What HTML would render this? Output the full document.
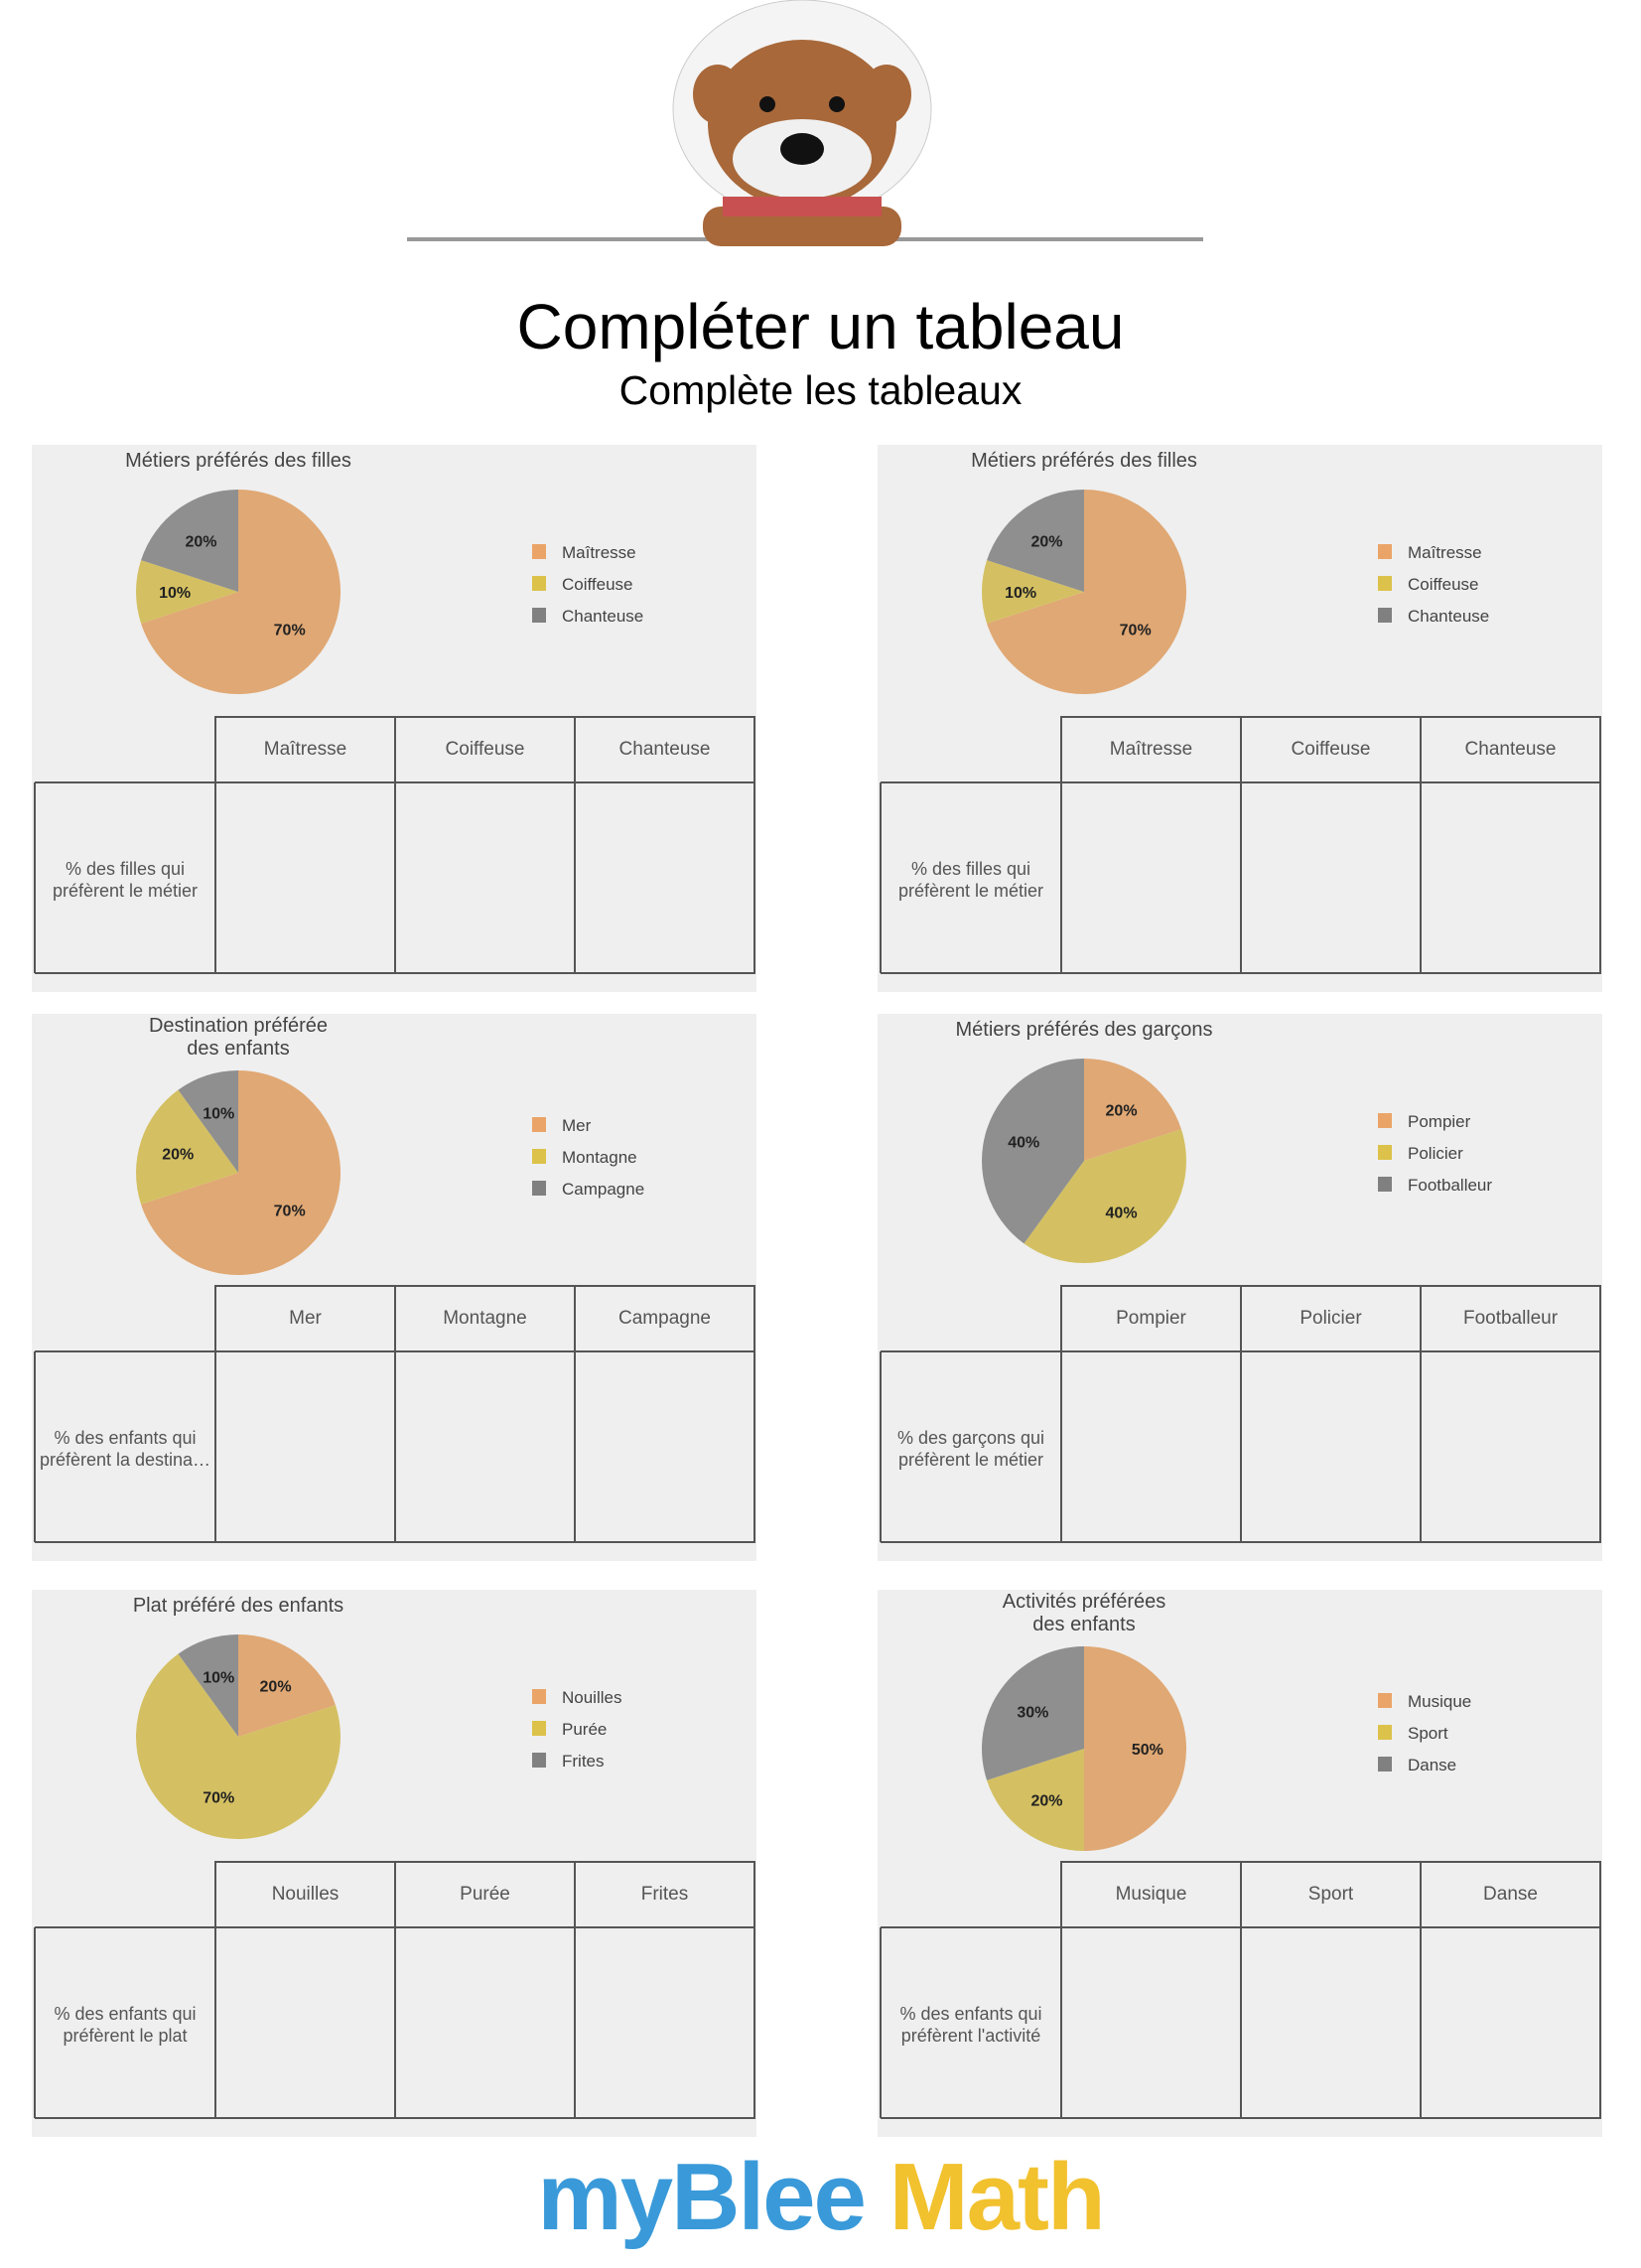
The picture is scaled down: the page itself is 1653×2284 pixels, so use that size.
<!DOCTYPE html>
<html><head><meta charset="utf-8">
<style>
body{margin:0;width:1653px;height:2284px;background:#fff;position:relative;overflow:hidden;font-family:"Liberation Sans",sans-serif}
.t{position:absolute;left:0;width:1653px;text-align:center;color:#000}
.p{position:absolute;width:730px;height:551px;background:#efefef}
.p svg{position:absolute;left:0;top:0}
</style></head><body>
<svg style="position:absolute;left:0;top:0" width="1653" height="280">
<line x1="410" y1="241" x2="1212" y2="241" stroke="#999" stroke-width="4"/>
<ellipse cx="808" cy="110" rx="130" ry="110" fill="#f4f4f4" stroke="#ccc"/>
<ellipse cx="808" cy="125" rx="95" ry="85" fill="#a8683a"/>
<ellipse cx="723" cy="95" rx="25" ry="30" fill="#a8683a"/>
<ellipse cx="893" cy="95" rx="25" ry="30" fill="#a8683a"/>
<ellipse cx="808" cy="160" rx="70" ry="40" fill="#f0f0f0"/>
<ellipse cx="808" cy="150" rx="22" ry="16" fill="#111"/>
<circle cx="773" cy="105" r="8" fill="#111"/><circle cx="843" cy="105" r="8" fill="#111"/>
<rect x="708" y="208" width="200" height="40" rx="18" fill="#a8683a"/>
<rect x="728" y="198" width="160" height="20" fill="#c85050"/>
</svg>
<div class="t" style="top:292px;font-size:64px">Compléter un tableau</div>
<div class="t" style="top:370px;font-size:41px">Complète les tableaux</div>

<div id="panels"></div>

<div class="t" style="top:2158px;font-size:96px;font-weight:bold;letter-spacing:-2px"><span style="color:#3a9ad9">myBlee</span> <span style="color:#f2c12e">Math</span></div>

<script>
var P=[
 {x:32,y:448,t:["Métiers préférés des filles"],l:["Maîtresse","Coiffeuse","Chanteuse"],v:[70,10,20],r:["% des filles qui","préfèrent le métier"]},
 {x:884,y:448,t:["Métiers préférés des filles"],l:["Maîtresse","Coiffeuse","Chanteuse"],v:[70,10,20],r:["% des filles qui","préfèrent le métier"]},
 {x:32,y:1021,t:["Destination préférée","des enfants"],l:["Mer","Montagne","Campagne"],v:[70,20,10],r:["% des enfants qui","préfèrent la destina…"]},
 {x:884,y:1021,t:["Métiers préférés des garçons"],l:["Pompier","Policier","Footballeur"],v:[20,40,40],r:["% des garçons qui","préfèrent le métier"]},
 {x:32,y:1601,t:["Plat préféré des enfants"],l:["Nouilles","Purée","Frites"],v:[20,70,10],r:["% des enfants qui","préfèrent le plat"]},
 {x:884,y:1601,t:["Activités préférées","des enfants"],l:["Musique","Sport","Danse"],v:[50,20,30],r:["% des enfants qui","préfèrent l'activité"]}
];
var C=["#e0a874","#d4c062","#8f8f8f"],LC=["#eba468","#dcc24a","#808080"];
var h="";
P.forEach(function(p){
 var two=p.t.length>1, cx=208, cy=two?160:148, R=103;
 var s='<svg width="730" height="551" xmlns="http://www.w3.org/2000/svg">';
 p.t.forEach(function(t,i){s+='<text x="208" y="'+(two?18+i*23:22)+'" text-anchor="middle" font-size="20" fill="#444">'+t+'</text>';});
 var a=0;
 p.v.forEach(function(v,i){
  var a0=a,a1=a+v*3.6;a=a1;
  var f=function(d){var r=(d-90)*Math.PI/180;return [cx+R*Math.cos(r),cy+R*Math.sin(r)];};
  var A=f(a0),B=f(a1);
  s+='<path d="M'+cx+','+cy+'L'+A[0]+','+A[1]+'A'+R+','+R+' 0 '+(v>50?1:0)+' 1 '+B[0]+','+B[1]+'Z" fill="'+C[i]+'"/>';
  var m=((a0+a1)/2-90)*Math.PI/180,rr=R*0.62;
  s+='<text x="'+(cx+rr*Math.cos(m))+'" y="'+(cy+rr*Math.sin(m)+6)+'" text-anchor="middle" font-size="16" font-weight="bold" fill="#222">'+v+'%</text>';
 });
 p.l.forEach(function(l,i){
  var y=(two?112:108)+i*32;
  s+='<rect x="504" y="'+(y-8)+'" width="14" height="15" fill="'+LC[i]+'"/><text x="534" y="'+(y+6)+'" font-size="17" fill="#444">'+l+'</text>';
 });
 var ht=274,bt=340,bb=532,cols=[185,366,547,728];
 s+='<g stroke="#555" stroke-width="2" fill="none"><rect x="185" y="'+ht+'" width="543" height="'+(bb-ht)+'"/><line x1="3" y1="'+bt+'" x2="728" y2="'+bt+'"/><line x1="3" y1="'+bt+'" x2="3" y2="'+bb+'"/><line x1="3" y1="'+bb+'" x2="185" y2="'+bb+'"/>';
 s+='<line x1="366" y1="'+ht+'" x2="366" y2="'+bb+'"/><line x1="547" y1="'+ht+'" x2="547" y2="'+bb+'"/></g>';
 p.l.forEach(function(l,i){s+='<text x="'+((cols[i]+cols[i+1])/2)+'" y="'+(ht+38)+'" text-anchor="middle" font-size="19" fill="#555">'+l+'</text>';});
 s+='<text x="94" y="'+(bt+93)+'" text-anchor="middle" font-size="18" fill="#555">'+p.r[0]+'</text><text x="94" y="'+(bt+115)+'" text-anchor="middle" font-size="18" fill="#555">'+p.r[1]+'</text>';
 s+='</svg>';
 h+='<div class="p" style="left:'+p.x+'px;top:'+p.y+'px">'+s+'</div>';
});
document.getElementById("panels").innerHTML=h;
</script>
</body></html>
